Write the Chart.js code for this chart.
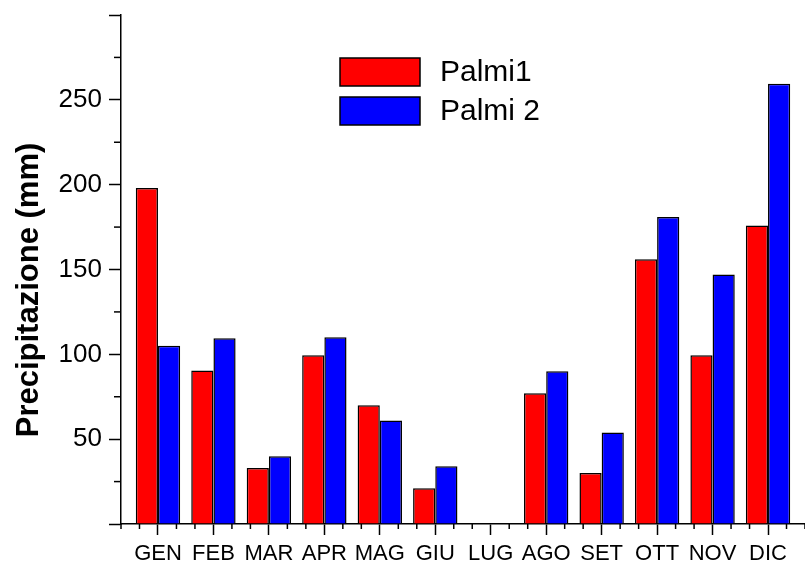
<!DOCTYPE html>
<html>
<head>
<meta charset="utf-8">
<script src="https://cdn.jsdelivr.net/npm/chart.js@4.4.0/dist/chart.umd.min.js"></script>
<style>
html,body{margin:0;padding:0;background:#fff;}
#wrap{width:805px;height:563px;}
</style>
</head>
<body>
<div id="wrap"><canvas id="c" width="805" height="563"></canvas></div>
<script>
const months = ["GEN","FEB","MAR","APR","MAG","GIU","LUG","AGO","SET","OTT","NOV","DIC"];
const palmi1 = [198, 90.5, 33, 99.5, 70, 21, 0, 77, 30, 156, 99.5, 176];
const palmi2 = [105, 109.5, 40, 110, 61, 34, 0, 90, 54, 181, 147, 259.5];
const seriesNames = ["Palmi1", "Palmi 2"];
const yTitle = "Precipitazione (mm)";
const yTicks = [0, 50, 100, 150, 200, 250, 300];

const FONT = '"Liberation Sans", Arial, sans-serif';

const decor = {
  id: 'decor',
  afterDraw(chart) {
    const ctx = chart.ctx;
    const x = chart.scales.x, y = chart.scales.y;
    ctx.save();
    ctx.strokeStyle = '#000';
    ctx.lineWidth = 1.5;
    // minor y ticks
    for (let i = 0; i < yTicks.length - 1; i++) {
      const v = (yTicks[i] + yTicks[i+1]) / 2;
      const py = y.getPixelForValue(v);
      ctx.beginPath(); ctx.moveTo(x.left - 7, py); ctx.lineTo(x.left, py); ctx.stroke();
    }
    // minor x ticks
    for (let i = -1; i <= months.length; i++) {
      [i + 1/3, i + 2/3].forEach(v => {
        if (v < x.min - 1e-6 || v > x.max + 1e-6) return;
        const px = x.getPixelForValue(v);
        ctx.beginPath(); ctx.moveTo(px, y.bottom); ctx.lineTo(px, y.bottom + 5); ctx.stroke();
      });
    }
    // y title
    ctx.fillStyle = '#000';
    ctx.font = 'bold 31px ' + FONT;
    ctx.textAlign = 'center';
    ctx.textBaseline = 'middle';
    ctx.translate(29, 290);
    ctx.rotate(-Math.PI / 2);
    ctx.fillText(yTitle, 0, 0);
    ctx.restore();

    // legend
    ctx.save();
    const ds = chart.data.datasets;
    const boxX = 340, boxW = 80, boxH = 28;
    const rowY = [58, 97];
    ds.forEach((d, i) => {
      ctx.fillStyle = d.backgroundColor;
      ctx.fillRect(boxX, rowY[i], boxW, boxH);
      ctx.strokeStyle = '#000';
      ctx.lineWidth = 1.5;
      ctx.strokeRect(boxX, rowY[i], boxW, boxH);
      ctx.fillStyle = '#000';
      ctx.font = '30px ' + FONT;
      ctx.textAlign = 'left';
      ctx.textBaseline = 'middle';
      ctx.fillText(d.label, 440, rowY[i] + boxH / 2 + 1);
    });
    ctx.restore();
  }
};

new Chart(document.getElementById('c'), {
  type: 'bar',
  data: {
    datasets: [
      { label: seriesNames[0], data: palmi1.map((v, i) => ({x: i, y: v})),
        backgroundColor: '#ff0000', borderColor: '#000', borderWidth: 1.5,
        categoryPercentage: 0.8, barPercentage: 1.0 },
      { label: seriesNames[1], data: palmi2.map((v, i) => ({x: i, y: v})),
        backgroundColor: '#0000ff', borderColor: '#000', borderWidth: 1.5,
        categoryPercentage: 0.8, barPercentage: 1.0 }
    ]
  },
  options: {
    responsive: false,
    animation: false,
    layout: { padding: { top: 15, right: 0, left: 0, bottom: 0 } },
    plugins: { legend: { display: false }, tooltip: { enabled: false } },
    scales: {
      x: {
        type: 'linear',
        min: -2/3,
        max: months.length - 1 + 2/3,
        offset: false,
        afterBuildTicks: (s) => { s.ticks = months.map((_, i) => ({value: i})); },
        afterFit: (s) => { s.height = 39; s.paddingLeft = 0; s.paddingRight = 0; },
        grid: { display: true, drawOnChartArea: false, drawTicks: true, tickLength: 11, tickColor: '#000', tickWidth: 1.5, offset: false },
        border: { display: true, color: '#000', width: 1.5 },
        ticks: {
          autoSkip: false, maxRotation: 0, padding: 6, color: '#000',
          font: { family: FONT, size: 22 },
          callback: (v) => months[v] !== undefined ? months[v] : ''
        }
      },
      y: {
        min: 0, max: 300,
        afterBuildTicks: (s) => { s.ticks = yTicks.map(v => ({value: v})); },
        afterFit: (s) => { s.width = 121; s.paddingTop = 0; s.paddingBottom = 0; },
        grid: { display: true, drawOnChartArea: false, drawTicks: true, tickLength: 12, tickColor: '#000', tickWidth: 1.5 },
        border: { display: true, color: '#000', width: 1.5 },
        ticks: {
          padding: 7, color: '#000',
          font: { family: FONT, size: 26 },
          callback: (v) => (v === 0 || v === 300) ? '' : String(v)
        }
      }
    }
  },
  plugins: [decor]
});
</script>
</body>
</html>
